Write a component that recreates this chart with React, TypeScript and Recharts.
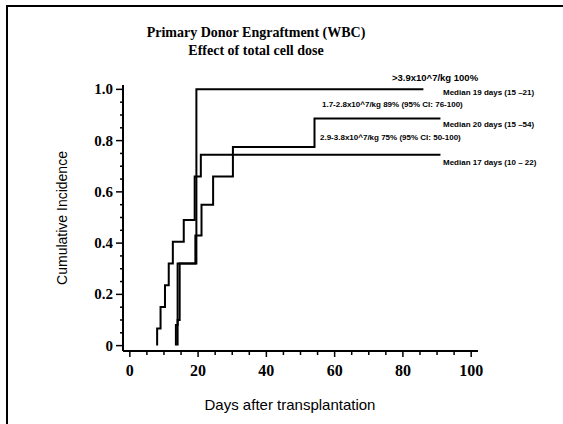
import React from "react";
import { LineChart, Line, XAxis, YAxis } from "recharts";

// Cumulative incidence step curves
const daysHigh = [13.5, 13.5, 14.0, 19.5, 86];
const incHigh = [0, 0.08, 0.32, 1.0, 1.0];

const daysLow = [14.0, 14.0, 14.6, 19.2, 21.0, 24.4, 30.2, 54.1, 91];
const incLow = [0, 0.1, 0.32, 0.43, 0.55, 0.66, 0.775, 0.886, 0.886];

const daysMid = [8.0, 8.0, 9.0, 10.3, 11.4, 12.6, 15.8, 19.0, 20.8, 91];
const incMid = [0, 0.067, 0.151, 0.236, 0.32, 0.405, 0.49, 0.66, 0.745, 0.745];

const xTicks = [0, 5, 10, 15, 20, 25, 30, 35, 40, 45, 50, 55, 60, 65, 70, 75, 80, 85, 90, 95, 100];
const xLabelTicks = [0, 20, 40, 60, 80, 100];
const yTicks = [0, 0.05, 0.1, 0.15, 0.2, 0.25, 0.3, 0.35, 0.4, 0.45, 0.5, 0.55, 0.6, 0.65, 0.7, 0.75, 0.8, 0.85, 0.9, 0.95, 1.0];
const yLabelTicks = [0, 0.2, 0.4, 0.6, 0.8, 1.0];

const toPoints = (days: number[], inc: number[]) => days.map((d, i) => ({ day: d, inc: inc[i] }));

const serif = "'Liberation Serif', 'DejaVu Serif', serif";
const sans = "'Liberation Sans', Arial, sans-serif";

function XTick(props: any) {
  const { x, y, payload } = props;
  const major = xLabelTicks.includes(payload.value);
  return (
    <g>
      <line x1={x} x2={x} y1={y} y2={y + (major ? 6 : 4)} stroke="#000" strokeWidth={1.5} />
      {major && (
        <text x={x} y={y + 25} textAnchor="middle" fontFamily={serif} fontWeight="bold" fontSize={16} fill="#000">
          {payload.value}
        </text>
      )}
    </g>
  );
}

function YTick(props: any) {
  const { x, y, payload } = props;
  const major = yLabelTicks.some((v) => Math.abs(v - payload.value) < 1e-6);
  return (
    <g>
      <line x1={x - (major ? 7 : 3)} x2={x} y1={y} y2={y} stroke="#000" strokeWidth={1.5} />
      {major && (
        <text x={x - 10} y={y + 5} textAnchor="end" fontFamily={serif} fontWeight="bold" fontSize={15} fill="#000">
          {payload.value === 0 ? "0" : payload.value.toFixed(1)}
        </text>
      )}
    </g>
  );
}

const small = { position: "absolute" as const, fontFamily: sans, fontWeight: "bold" as const, fontSize: 8, whiteSpace: "nowrap" as const, lineHeight: "10px" };

export default function App() {
  return (
    <div style={{ position: "absolute", left: 0, top: 0, width: 563, height: 424, background: "#fff", overflow: "hidden" }}>
      <div style={{ position: "absolute", left: 6, top: 5, width: 600, height: 500, borderTop: "2px solid #000", borderLeft: "2px solid #000" }} />
      <LineChart width={563} height={424} margin={{ top: 85, right: 85, left: 0, bottom: 0 }}>
        <XAxis
          type="number"
          dataKey="day"
          domain={[-2, 102]}
          ticks={xTicks}
          interval={0}
          height={73}
          tickSize={0}
          tickMargin={0}
          tick={<XTick />}
          axisLine={{ stroke: "#000", strokeWidth: 2 }}
          allowDuplicatedCategory={false}
        />
        <YAxis
          type="number"
          dataKey="inc"
          domain={[-0.021, 1.017]}
          ticks={yTicks}
          interval={0}
          width={123}
          tickSize={0}
          tickMargin={0}
          tick={<YTick />}
          axisLine={{ stroke: "#000", strokeWidth: 2 }}
        />
        <Line data={toPoints(daysHigh, incHigh)} dataKey="inc" type="stepAfter" stroke="#000" strokeWidth={2} dot={false} isAnimationActive={false} />
        <Line data={toPoints(daysLow, incLow)} dataKey="inc" type="stepAfter" stroke="#000" strokeWidth={2} dot={false} isAnimationActive={false} />
        <Line data={toPoints(daysMid, incMid)} dataKey="inc" type="stepAfter" stroke="#000" strokeWidth={2} dot={false} isAnimationActive={false} />
      </LineChart>

      <div style={{ position: "absolute", left: 0, width: 512, top: 24, textAlign: "center", fontFamily: serif, fontWeight: "bold", fontSize: 14, lineHeight: "18px" }}>
        Primary Donor Engraftment (WBC)
        <br />
        Effect of total cell dose
      </div>
      <div style={{ position: "absolute", left: 62, top: 218, transform: "translate(-50%, -50%) rotate(-90deg)", fontFamily: sans, fontSize: 14, whiteSpace: "nowrap" }}>
        Cumulative Incidence
      </div>
      <div style={{ position: "absolute", left: 290, top: 404, transform: "translate(-50%, -50%)", fontFamily: sans, fontSize: 15, whiteSpace: "nowrap" }}>
        Days after transplantation
      </div>

      <div style={{ ...small, left: 392, top: 72, fontSize: 9.5, lineHeight: "12px" }}>&gt;3.9x10^7/kg 100%</div>
      <div style={{ ...small, left: 443, top: 88 }}>Median 19 days (15 –21)</div>
      <div style={{ ...small, left: 322, top: 100 }}>1.7-2.8x10^7/kg 89% (95% CI: 76-100)</div>
      <div style={{ ...small, left: 443, top: 120 }}>Median 20 days (15 –54)</div>
      <div style={{ ...small, left: 320, top: 133 }}>2.9-3.8x10^7/kg 75% (95% CI: 50-100)</div>
      <div style={{ ...small, left: 443, top: 158 }}>Median 17 days (10 – 22)</div>
    </div>
  );
}
